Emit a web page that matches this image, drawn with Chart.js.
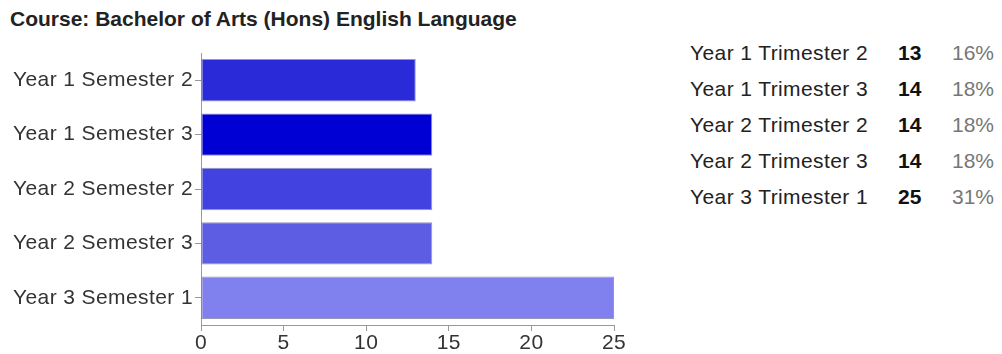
<!DOCTYPE html>
<html>
<head>
<meta charset="utf-8">
<script src="https://cdn.jsdelivr.net/npm/chart.js@4.4.8/dist/chart.umd.min.js"></script>
<style>
  body { margin: 0; background: #fff; width: 1002px; height: 354px; overflow: hidden; position: relative; font-family: "Liberation Sans", Arial, sans-serif; }
  #title { position: absolute; left: 10px; top: 6px; font-size: 21px; font-weight: bold; color: #222; line-height: 26px; white-space: nowrap; }
  #wrap { position: absolute; left: 0; top: 0; width: 640px; height: 354px; }
  #tbl { position: absolute; left: 690px; top: 35px; width: 310px; font-size: 21px; color: #222; }
  .row { position: relative; height: 36px; line-height: 36px; white-space: nowrap; }
  .row .l { letter-spacing: 0.4px; }
  .row .n { position: absolute; left: 208px; font-weight: bold; color: #111; }
  .row .p { position: absolute; right: 6px; color: #777; }
</style>
</head>
<body>
<div id="title">Course: Bachelor of Arts (Hons) English Language</div>
<div id="wrap"><canvas id="myChart"></canvas></div>
<div id="tbl"></div>
<script>
  // chart data
  const categories = ['Year 1 Semester 2', 'Year 1 Semester 3', 'Year 2 Semester 2', 'Year 2 Semester 3', 'Year 3 Semester 1'];
  const counts = [13, 14, 14, 14, 25];
  const barColors = ['#2a2ad9', '#0000d4', '#4242e0', '#5d5de3', '#8080ee'];
  const xTicks = [0, 5, 10, 15, 20, 25];

  // side summary
  const tableLabels = ['Year 1 Trimester 2', 'Year 1 Trimester 3', 'Year 2 Trimester 2', 'Year 2 Trimester 3', 'Year 3 Trimester 1'];
  const percents = ['16%', '18%', '18%', '18%', '31%'];

  const tbl = document.getElementById('tbl');
  for (let i = 0; i < tableLabels.length; i++) {
    let row = document.createElement('div');
    row.className = 'row';
    let l = document.createElement('span');
    l.className = 'l';
    l.innerText = tableLabels[i];
    let n = document.createElement('span');
    n.className = 'n';
    n.innerText = counts[i];
    let p = document.createElement('span');
    p.className = 'p';
    p.innerText = percents[i];
    row.appendChild(l);
    row.appendChild(n);
    row.appendChild(p);
    tbl.appendChild(row);
  }

  // slightly wider axis text; canvas state resets on resize so set it before layout and draw
  const spacing = {
    id: 'spacing',
    beforeLayout(chart) { chart.ctx.letterSpacing = '0.4px'; },
    beforeDraw(chart) { chart.ctx.letterSpacing = '0.4px'; }
  };

  const font = { family: '"Liberation Sans", Arial, sans-serif', size: 21 };

  const ctx = document.getElementById('myChart');
  new Chart(ctx, {
    type: 'bar',
    plugins: [spacing],
    data: {
      labels: categories,
      datasets: [{
        data: counts,
        backgroundColor: barColors,
        borderColor: 'rgba(20,20,110,0.45)',
        borderWidth: 1,
        borderSkipped: false,
        barPercentage: 0.78,
        categoryPercentage: 1
      }]
    },
    options: {
      indexAxis: 'y',
      responsive: true,
      maintainAspectRatio: false,
      animation: false,
      layout: { padding: { top: 53, right: 26, bottom: 0, left: 0 } },
      plugins: { legend: { display: false }, tooltip: { enabled: false } },
      scales: {
        x: {
          min: 0,
          max: 25,
          afterBuildTicks: s => { s.ticks = xTicks.map(v => ({ value: v })); },
          afterFit: s => { s.height = 29; },
          border: { display: true, color: '#999', width: 1 },
          grid: { drawOnChartArea: false, drawTicks: true, tickLength: 6, color: '#999' },
          ticks: { color: '#333', padding: 0, maxRotation: 0, font: font }
        },
        y: {
          afterFit: s => { s.width = 201; },
          border: { display: true, color: '#999', width: 1 },
          grid: { drawOnChartArea: false, drawTicks: true, tickLength: 6, color: '#999', offset: false },
          ticks: { color: '#333', padding: 2, font: font }
        }
      }
    }
  });
</script>
</body>
</html>
